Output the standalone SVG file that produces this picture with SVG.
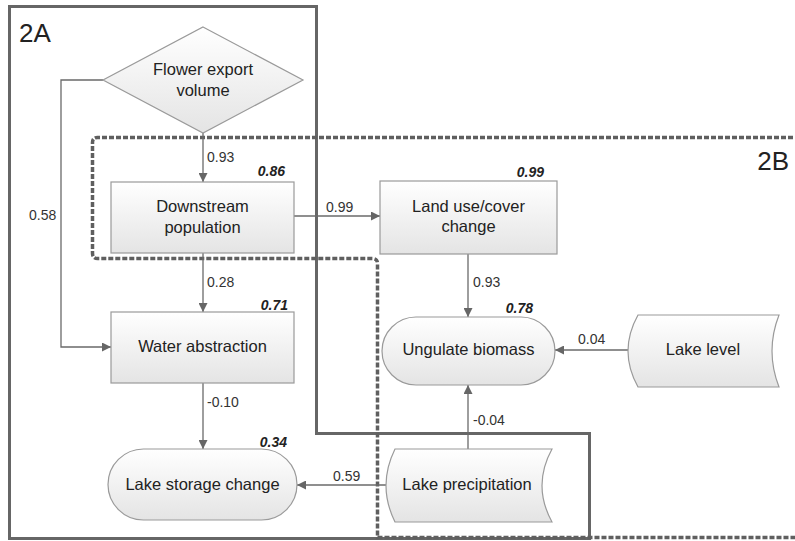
<svg xmlns="http://www.w3.org/2000/svg" width="795" height="541" viewBox="0 0 795 541">
<defs>
<linearGradient id="g" x1="0" y1="0" x2="0" y2="1">
<stop offset="0" stop-color="#ffffff"/>
<stop offset="1" stop-color="#e4e4e4"/>
</linearGradient>
<marker id="arr" viewBox="0 0 10 10" refX="10" refY="5" markerWidth="9" markerHeight="9" markerUnits="userSpaceOnUse" orient="auto">
<path d="M0,0 L10,5 L0,10 Z" fill="#666"/>
</marker>
</defs>
<style>
.n{fill:url(#g);stroke:#9a9a9a;stroke-width:1.2}
.t{font-family:"Liberation Sans",Arial,sans-serif;font-size:16.5px;fill:#222;text-anchor:middle}
.l{font-family:"Liberation Sans",Arial,sans-serif;font-size:14px;fill:#333}
.r{font-family:"Liberation Sans",Arial,sans-serif;font-size:14px;font-weight:bold;font-style:italic;fill:#222;text-anchor:end}
.c{fill:none;stroke:#6a6a6a;stroke-width:1.3}
.big{font-family:"Liberation Sans",Arial,sans-serif;font-size:26px;fill:#222}
</style>
<rect width="795" height="541" fill="#ffffff"/>
<g id="box-2A">
<path d="M9.5,6.5 L316.5,6.5 L316.5,433.5 L589.5,433.5 L589.5,538.5 L9.5,538.5 Z" fill="none" stroke="#666" stroke-width="3"/>
<text class="big" x="19" y="42">2A</text>
</g>
<g id="box-2B">
<path d="M800,137.5 L97.5,137.5 Q92.5,137.5 92.5,142.5 L92.5,253 Q92.5,258.5 97.5,258.5 L372,258.5 Q377.5,258.5 377.5,263.5 L377.5,537.5 L800,537.5" fill="none" stroke="#5f5f5f" stroke-width="3.5" stroke-dasharray="5 2"/>
<text class="big" x="789" y="170" text-anchor="end">2B</text>
</g>
<g id="connectors">
<path class="c" d="M203,133 L203,182" marker-end="url(#arr)"/>
<path class="c" d="M103,80 L61,80 L61,347 L111,347" marker-end="url(#arr)"/>
<path class="c" d="M294,216 L380,216" marker-end="url(#arr)"/>
<path class="c" d="M203,253 L203,312" marker-end="url(#arr)"/>
<path class="c" d="M203,383 L203,449" marker-end="url(#arr)"/>
<path class="c" d="M468,254 L468,317" marker-end="url(#arr)"/>
<path class="c" d="M628,350 L555,350" marker-end="url(#arr)"/>
<path class="c" d="M468,449 L468,385" marker-end="url(#arr)"/>
<path class="c" d="M386,485 L297,485" marker-end="url(#arr)"/>
<text class="l" x="207" y="162">0.93</text>
<text class="l" x="29" y="220">0.58</text>
<text class="l" x="326" y="212">0.99</text>
<text class="l" x="207" y="287">0.28</text>
<text class="l" x="207" y="407">-0.10</text>
<text class="l" x="333" y="481">0.59</text>
<text class="l" x="473" y="287">0.93</text>
<text class="l" x="578" y="344">0.04</text>
<text class="l" x="473" y="425">-0.04</text>
</g>
<g id="flower-export-volume">
<path class="n" d="M203,27 L303,80 L203,133 L103,80 Z"/>
<text class="t" x="203" y="75">Flower export</text>
<text class="t" x="203" y="96">volume</text>
</g>
<g id="downstream-population">
<rect class="n" x="111" y="182" width="183" height="71"/>
<text class="t" x="202.5" y="212">Downstream</text>
<text class="t" x="202.5" y="233">population</text>
<text class="r" x="285" y="176">0.86</text>
</g>
<g id="land-use-cover-change">
<rect class="n" x="380" y="181" width="177" height="73"/>
<text class="t" x="468.5" y="212">Land use/cover</text>
<text class="t" x="468.5" y="232">change</text>
<text class="r" x="544" y="177">0.99</text>
</g>
<g id="water-abstraction">
<rect class="n" x="111" y="312" width="183" height="71"/>
<text class="t" x="202.5" y="352">Water abstraction</text>
<text class="r" x="288" y="310">0.71</text>
</g>
<g id="lake-storage-change">
<rect class="n" x="108" y="449" width="189" height="71" rx="35.5" ry="35.5"/>
<text class="t" x="202.5" y="490">Lake storage change</text>
<text class="r" x="287" y="447">0.34</text>
</g>
<g id="ungulate-biomass">
<rect class="n" x="382" y="317" width="173" height="68" rx="34" ry="34"/>
<text class="t" x="468.5" y="355">Ungulate biomass</text>
<text class="r" x="533" y="313">0.78</text>
</g>
<g id="lake-level">
<path class="n" d="M638,315 L779,315 Q765,351 779,387 L638,387 Q618,351 638,315 Z"/>
<text class="t" x="703" y="355">Lake level</text>
</g>
<g id="lake-precipitation">
<path class="n" d="M395,449 L552,449 Q532,485.5 552,522 L395,522 Q377,485.5 395,449 Z"/>
<text class="t" x="467" y="490">Lake precipitation</text>
</g>
</svg>
